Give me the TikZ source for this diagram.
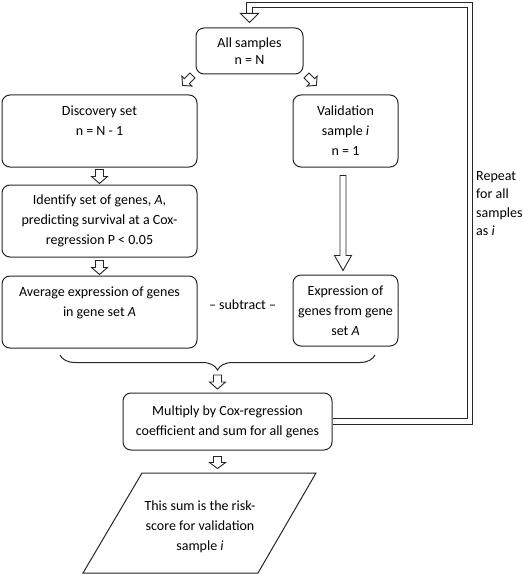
\documentclass[tikz,border=0pt]{standalone}
\usepackage{fontspec}
\setmainfont{Carlito}
\usepackage{tikz}
\usetikzlibrary{
  calc,
  decorations.pathreplacing
}

\begin{document}
\begin{tikzpicture}[%設定
          x=1pt,y=-1pt,
          box/.style={
              draw=black!85,
              line width=1pt,
              rounded corners=8pt,
              align=center,
              inner sep=2pt,
              font=\fontsize{14}{20}\selectfont
            },
          txt/.style={
              inner sep=0pt,
              font=\fontsize{14}{20}\selectfont
            },
          loopline/.style={
              draw=black!85,
              line width=1pt,
              double=white,
              double distance=4.5pt,
              shorten <=.5pt
            },
          pics/blockarr/.style n args={4}{
              code={
                  \draw[black!85, line width=.9pt, fill=white]
                    (-#2,0) -- (-#2,#1-#4) -- (-#3,#1-#4) -- (0,#1)
                    -- (#3,#1-#4) -- (#2,#1-#4) -- (#2,0) -- cycle;
                }
            }
        ]
        \useasboundingbox (0,0) rectangle (523,575);

        % 箱
        \node[box, minimum width=107, minimum height=46] (all) at (249.5,51) {All samples\\[-3pt]n = N};
        \node[box, minimum width=195, minimum height=72] (disc) at (99.5,131) {Discovery set\\n = N - 1\\~};
        \node[box, minimum width=105, minimum height=72] (valid) at (345.5,131) {Validation\\sample \textit{i}\\n = 1};
        \node[box, minimum width=195, minimum height=72] (ident) at (99.5,221) {Identify set of genes, \textit{A},\\predicting survival at a Cox-\\regression P < 0.05};
        \node[box, minimum width=195, minimum height=72] (avg) at (99.5,312) {Average expression of genes\\in gene set \textit{A}\\~};
        \node[box, minimum width=105, minimum height=71] (expr) at (345.5,310.5) {Expression of\\genes from gene\\set \textit{A}};
        \node[txt] (subtr) at (242.5,305) {-- subtract --};
        \node[box, minimum width=209, minimum height=57] (mult) at (227.5,421.5) {Multiply by Cox-regression\\coefficient and sum for all genes};

        % 平行四辺形
        \coordinate (paraTL) at (142,473);
        \coordinate (paraTR) at (316,473);
        \coordinate (paraBR) at (258,573);
        \coordinate (paraBL) at (83,573);
        \draw[black!85, line width=1pt] (paraTL) -- (paraTR) -- (paraBR) -- (paraBL) -- cycle;
        \node[txt, align=center] (risk) at (200,527) {This sum is the risk-\\score for validation\\sample \textit{i}};

        % 中括弧
        \coordinate (braceR) at (375,355);
        \coordinate (braceL) at (60,355);
        \coordinate (braceTip) at (217.5,370);
        \draw[black!85, line width=1pt, decorate, decoration={brace, amplitude=15pt}] (braceR) -- (braceL);

        % 矢印
        \pic[rotate=-45] at ($(all.south west)+(-3,1)$) {blockarr={14}{3.5}{7}{6}};
        \pic[rotate=45] at ($(all.south east)+(3,1)$) {blockarr={14}{3.5}{7}{6}};
        \pic at ($(disc.south)+(0,2)$) {blockarr={14}{4}{8}{7}};
        \pic at ($(ident.south)+(0,3)$) {blockarr={14}{4}{8}{7}};
        \pic at ($(valid.south)+(-2.5,8)$) {blockarr={95}{3}{8.5}{15}};
        \pic at ($(braceTip)+(0,5)$) {blockarr={14}{4}{8}{7}};
        \pic at ($(braceTip |- mult.south)+(0,6)$) {blockarr={12}{4}{8}{6}};

        % 繰り返し
        \coordinate (loopTop) at ($(all.north)+(0,-22.5)$);
        \draw[loopline] (mult.east) -- ++(137.5,0) |- (loopTop) -- ++(0,8.5) coordinate (loopEnd);
        \draw[black!85, line width=1pt, fill=white] ($(loopEnd)+(-9,0)$) -- ($(loopEnd)+(9,0)$) -- ($(all.north)+(0,-5)$) -- cycle;
        \node[txt, anchor=north west, align=left, font=\fontsize{14}{18.5}\selectfont] (rep) at (476,171) {Repeat\\for all\\samples\\as \textit{i}};

      \end{tikzpicture}
\end{document}
